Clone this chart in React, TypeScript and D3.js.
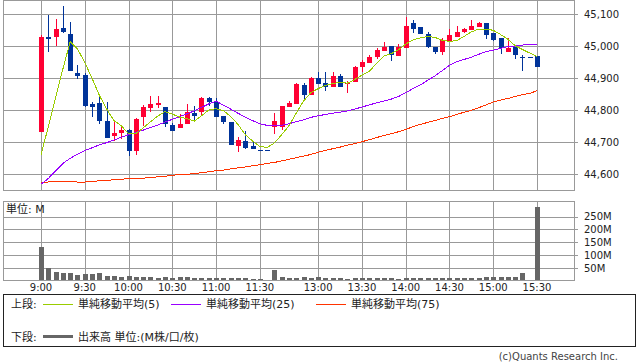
import * as d3 from "d3";
import { useEffect, useRef } from "react";

// 5-minute slots, 9:00 .. 15:30 (slot 31 = lunch placeholder)
const tickIndex = [0, 6, 12, 18, 24, 30, 38, 44, 50, 56, 62, 68];
const tickLabels = ["9:00", "9:30", "10:00", "10:30", "11:00", "11:30", "13:00", "13:30", "14:00", "14:30", "15:00", "15:30"];
const priceTicks = [44600, 44700, 44800, 44900, 45000, 45100];
const volumeTicks = [50, 100, 150, 200, 250];

const open = [44732, 45027, 45029, 45056, 45038, 44916, 44909, 44819, 44823, 44766, 44719, 44729, 44738, 44673, 44779, 44807, 44817, 44808, 44753, 44745, 44757, 44790, 44793, 44837, 44826, 44781, 44761, 44688, 44702, 44688, 44675, 44675, 44748, 44748, 44809, 44818, 44878, 44848, 44900, 44885, 44871, 44906, 44880, 44886, 44935, 44946, 44967, 44985, 44999, 44970, 44993, 45071, 45058, 45038, 44996, 44982, 45017, 45029, 45043, 45051, 45060, 45071, 45042, 45024, 44982, 44996, 44967, 44967, 44969];
const high = [45035, 45097, 45084, 45125, 45075, 44941, 44917, 44826, 44840, 44826, 44767, 44753, 44741, 44774, 44816, 44844, 44844, 44810, 44760, 44788, 44819, 44812, 44840, 44842, 44837, 44781, 44761, 44715, 44734, 44701, 44675, 44675, 44790, 44812, 44828, 44884, 44883, 44902, 44919, 44919, 44919, 44913, 44890, 44938, 44955, 44972, 44993, 45013, 44999, 45006, 45092, 45081, 45058, 45043, 44996, 45026, 45052, 45063, 45056, 45081, 45075, 45071, 45042, 45024, 45024, 44996, 44972, 44967, 44969];
const low = [44732, 44982, 45001, 45040, 44923, 44897, 44810, 44779, 44755, 44712, 44704, 44708, 44657, 44659, 44750, 44795, 44805, 44748, 44733, 44745, 44757, 44769, 44784, 44812, 44779, 44756, 44691, 44670, 44678, 44679, 44674, 44674, 44726, 44738, 44809, 44818, 44834, 44848, 44881, 44860, 44871, 44871, 44854, 44886, 44920, 44946, 44959, 44985, 44954, 44970, 44993, 45042, 45038, 44995, 44974, 44971, 45017, 45027, 45040, 45051, 45060, 45023, 45017, 44975, 44982, 44960, 44923, 44966, 44935];
const close = [45029, 45023, 45053, 45044, 44923, 44907, 44812, 44810, 44767, 44713, 44728, 44738, 44673, 44772, 44809, 44819, 44823, 44755, 44735, 44756, 44793, 44782, 44838, 44826, 44779, 44761, 44691, 44706, 44682, 44679, 44674, 44674, 44766, 44812, 44822, 44881, 44847, 44899, 44881, 44871, 44906, 44871, 44883, 44934, 44950, 44966, 44988, 44998, 44972, 44998, 45063, 45054, 45038, 44998, 44980, 45019, 45034, 45045, 45053, 45063, 45073, 45035, 45019, 44995, 44993, 44972, 44965, 44966, 44935];
// volume, millions
const volume = [132, 51, 36, 32, 32, 24, 28, 28, 32, 20, 20, 17, 20, 17, 17, 17, 13, 17, 13, 17, 17, 13, 13, 13, 13, 13, 13, 13, 13, 9, 9, 0, 42, 17, 13, 13, 17, 13, 17, 13, 13, 13, 9, 13, 13, 10, 13, 13, 13, 9, 13, 13, 13, 13, 10, 13, 10, 13, 13, 13, 13, 17, 17, 16, 16, 16, 32, 2, 287];

const ma5 = [44659, 44748, 44839, 44928, 45014, 44991, 44949, 44899, 44846, 44803, 44767, 44751, 44726, 44726, 44744, 44763, 44781, 44795, 44787, 44778, 44773, 44765, 44782, 44800, 44804, 44798, 44780, 44755, 44723, 44703, 44686, 44683, 44697, 44723, 44751, 44791, 44828, 44854, 44867, 44877, 44883, 44886, 44884, 44895, 44909, 44921, 44945, 44969, 44976, 44988, 45006, 45019, 45025, 45030, 45027, 45018, 45014, 45017, 45030, 45044, 45053, 45053, 45049, 45036, 45021, 45001, 44989, 44978, 44967];
const ma25 = [44568, 44586, 44610, 44633, 44649, 44662, 44673, 44682, 44691, 44698, 44706, 44715, 44723, 44730, 44737, 44745, 44753, 44762, 44771, 44779, 44788, 44797, 44808, 44819, 44828, 44815, 44803, 44790, 44778, 44767, 44757, 44752, 44750, 44752, 44757, 44764, 44769, 44777, 44782, 44786, 44790, 44793, 44797, 44803, 44809, 44816, 44822, 44828, 44834, 44842, 44854, 44867, 44878, 44893, 44906, 44923, 44940, 44951, 44958, 44965, 44974, 44982, 44987, 44993, 44998, 45000, 45003, 45005, 45005];
const ma75 = [44573, 44575, 44577, 44577, 44576, 44575, 44575, 44576, 44579, 44580, 44582, 44584, 44585, 44586, 44587, 44589, 44591, 44593, 44596, 44598, 44599, 44601, 44604, 44607, 44610, 44612, 44616, 44619, 44622, 44626, 44629, 44633, 44636, 44641, 44646, 44651, 44656, 44661, 44668, 44674, 44679, 44684, 44690, 44695, 44701, 44707, 44714, 44720, 44726, 44732, 44739, 44748, 44755, 44761, 44767, 44774, 44779, 44786, 44793, 44799, 44807, 44816, 44825, 44831, 44836, 44842, 44848, 44852, 44860];

const UP = "#ff0033";
const DOWN = "#003399";
const GRID = "#999";
const FONT = "DejaVu Sans, 'Noto Sans CJK JP', sans-serif";

export default function App() {
  const svgRef = useRef(null);

  useEffect(() => {
    const svg = d3.select(svgRef.current);
    svg.selectAll("*").remove();
    svg.style("font-family", FONT);

    const left = 3, right = 574;
    const pTop = 0, pBottom = 190;
    const vTop = 201, vBottom = 280;
    const px = (v) => Math.round(v) + 0.5;

    const x = d3.scaleLinear([0, 68], [41, 537]);
    const y = d3.scaleLinear([44600, 45100], [174, 14]);
    const yv = d3.scaleLinear([0, 250], [281, 216.5]);

    const grid = svg.append("g").attr("stroke", GRID).attr("shape-rendering", "crispEdges");

    // price panel grid
    priceTicks.forEach((p) => {
      grid.append("line").attr("x1", left).attr("x2", right + 4)
        .attr("y1", px(y(p))).attr("y2", px(y(p)));
    });
    volumeTicks.forEach((v) => {
      grid.append("line").attr("x1", left).attr("x2", right + 4)
        .attr("y1", px(yv(v))).attr("y2", px(yv(v)));
    });
    tickIndex.forEach((t) => {
      grid.append("line").attr("x1", px(x(t))).attr("x2", px(x(t))).attr("y1", pTop).attr("y2", pBottom);
      grid.append("line").attr("x1", px(x(t))).attr("x2", px(x(t))).attr("y1", vTop).attr("y2", vBottom);
    });
    grid.append("rect").attr("x", left + 0.5).attr("y", pTop + 0.5)
      .attr("width", right - left).attr("height", pBottom - pTop).attr("fill", "none");
    grid.append("rect").attr("x", left + 0.5).attr("y", vTop + 0.5)
      .attr("width", right - left).attr("height", vBottom - vTop).attr("fill", "none");

    // candles
    const candles = svg.append("g").attr("shape-rendering", "crispEdges");
    close.forEach((c, i) => {
      const o = open[i];
      const col = c > o ? UP : DOWN;
      const cx = Math.round(x(i));
      candles.append("line")
        .attr("x1", cx + 0.5).attr("x2", cx + 0.5)
        .attr("y1", y(high[i])).attr("y2", y(low[i]))
        .attr("stroke", col);
      const top = Math.round(y(Math.max(o, c)));
      const bot = Math.round(y(Math.min(o, c)));
      candles.append("rect")
        .attr("x", cx - 2).attr("width", 5)
        .attr("y", top).attr("height", Math.max(1, bot - top))
        .attr("fill", col);
    });

    // moving averages
    const line = d3.line().x((d, i) => x(i)).y((d) => y(d));
    [[ma75, "#ff3300"], [ma25, "#9900ff"], [ma5, "#99cc00"]].forEach(([arr, col]) => {
      svg.append("path").datum(arr).attr("d", line)
        .attr("fill", "none").attr("stroke", col).attr("stroke-width", 1)
        .attr("shape-rendering", "crispEdges");
    });

    // volume bars
    svg.append("g").attr("shape-rendering", "crispEdges")
      .selectAll("rect").data(volume).join("rect")
      .attr("x", (d, i) => Math.round(x(i)) - 2)
      .attr("width", 5)
      .attr("y", (d) => Math.round(yv(d)))
      .attr("height", (d) => Math.max(0, vBottom - Math.round(yv(d))))
      .attr("fill", "#666");

    // axis labels
    const lab = svg.append("g").attr("font-size", 10).attr("fill", "#222");
    priceTicks.forEach((p) => {
      lab.append("text").attr("x", 584).attr("y", y(p) + 3.7).text(d3.format(",")(p));
    });
    volumeTicks.forEach((v) => {
      lab.append("text").attr("x", 584).attr("y", yv(v) + 3.5).text(`${v}M`);
    });
    tickIndex.forEach((t, k) => {
      lab.append("text").attr("x", x(t)).attr("y", 291).attr("text-anchor", "middle").text(tickLabels[k]);
    });
    svg.append("text").attr("x", 6).attr("y", 213).attr("font-size", 11).attr("fill", "#222").text("単位: M");

    // legend
    const leg = svg.append("g").attr("font-size", 11).attr("fill", "#222");
    leg.append("rect").attr("x", 3.5).attr("y", 294.5).attr("width", 632).attr("height", 52)
      .attr("fill", "none").attr("stroke", "#222").attr("shape-rendering", "crispEdges");
    leg.append("text").attr("x", 11).attr("y", 308).text("上段:");
    const items = [[43, "#99cc00", "単純移動平均(5)"], [171, "#9900ff", "単純移動平均(25)"], [316, "#ff3300", "単純移動平均(75)"]];
    items.forEach(([lx, col, txt]) => {
      leg.append("line").attr("x1", lx).attr("x2", lx + 30).attr("y1", 304.5).attr("y2", 304.5)
        .attr("stroke", col).attr("shape-rendering", "crispEdges");
      leg.append("text").attr("x", lx + 35).attr("y", 308).text(txt);
    });
    leg.append("text").attr("x", 11).attr("y", 341).text("下段:");
    leg.append("line").attr("x1", 43).attr("x2", 73).attr("y1", 336.5).attr("y2", 336.5)
      .attr("stroke", "#666").attr("stroke-width", 3);
    leg.append("text").attr("x", 78).attr("y", 341).text("出来高 単位:(M株/口/枚)");

    svg.append("text").attr("x", 618).attr("y", 360).attr("text-anchor", "end")
      .attr("font-size", 10).attr("fill", "#444").text("(c)Quants Research Inc.");
  }, []);

  return <svg ref={svgRef} width={638} height={362} style={{ position: "absolute", left: 0, top: 0, background: "#fff" }} />;
}
